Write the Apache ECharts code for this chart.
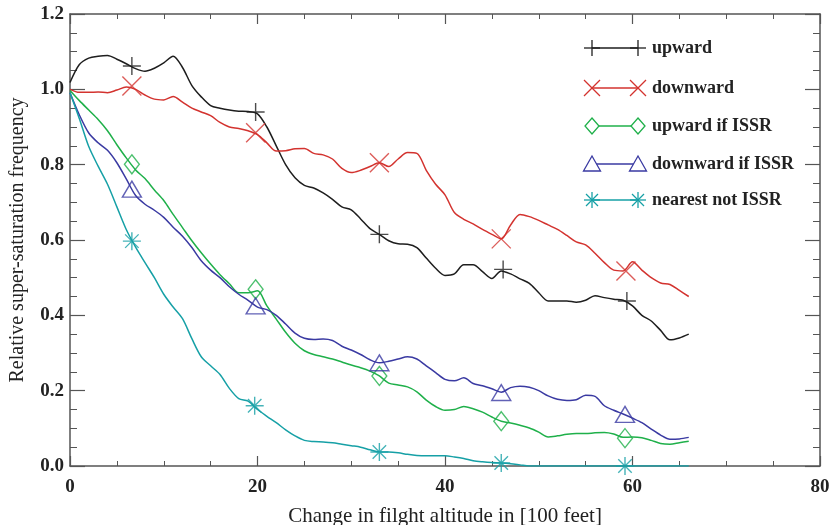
<!DOCTYPE html>
<html>
<head>
<meta charset="utf-8">
<script src="https://cdn.jsdelivr.net/npm/echarts@6/dist/echarts.min.js"></script>
<style>
  html, body { margin: 0; padding: 0; background: #fff; }
  #main { width: 833px; height: 525px; }
</style>
</head>
<body>
<div id="main"></div>
<script>
// altitude change [100 ft]
const xs = [0, 1, 2, 3, 4, 5, 6, 7, 8, 9, 10, 11, 12, 13, 14, 15, 16, 17, 18, 19, 20,
  21, 22, 23, 24, 25, 26, 27, 28, 29, 30, 31, 32, 33, 34, 35, 36, 37, 38, 39, 40,
  41, 42, 43, 44, 45, 46, 47, 48, 49, 50, 51, 52, 53, 54, 55, 56, 57, 58, 59, 60,
  61, 62, 63, 64, 65, 66];

const upward = [1.018, 1.066, 1.083, 1.088, 1.090, 1.080, 1.068, 1.055, 1.048, 1.056, 1.070,
  1.088, 1.058, 1.010, 0.980, 0.957, 0.950, 0.945, 0.942, 0.941, 0.935,
  0.900, 0.850, 0.800, 0.765, 0.745, 0.738, 0.725, 0.708, 0.688, 0.680,
  0.656, 0.630, 0.615, 0.598, 0.590, 0.589, 0.580, 0.552, 0.525, 0.506,
  0.510, 0.534, 0.534, 0.516, 0.498, 0.518, 0.510, 0.497, 0.485, 0.460,
  0.438, 0.438, 0.438, 0.435, 0.440, 0.452, 0.447, 0.443, 0.440, 0.425,
  0.400, 0.385, 0.360, 0.335, 0.340, 0.350];

const downward = [1.000, 0.992, 0.992, 0.993, 0.991, 0.998, 1.006, 1.000, 0.985, 0.974, 0.972,
  0.981, 0.966, 0.950, 0.940, 0.930, 0.912, 0.900, 0.896, 0.890, 0.880,
  0.858, 0.836, 0.837, 0.842, 0.843, 0.830, 0.826, 0.815, 0.790, 0.779,
  0.785, 0.795, 0.805, 0.795, 0.815, 0.832, 0.830, 0.785, 0.748, 0.720,
  0.673, 0.655, 0.643, 0.628, 0.615, 0.603, 0.640, 0.668, 0.662, 0.652,
  0.640, 0.628, 0.612, 0.595, 0.587, 0.565, 0.540, 0.520, 0.518, 0.542,
  0.520, 0.500, 0.486, 0.482, 0.466, 0.450];

const upwardIssr = [0.997, 0.970, 0.945, 0.920, 0.890, 0.853, 0.818, 0.786, 0.763, 0.733, 0.705,
  0.668, 0.633, 0.598, 0.566, 0.536, 0.508, 0.484, 0.460, 0.460, 0.465,
  0.425, 0.390, 0.355, 0.326, 0.306, 0.296, 0.290, 0.284, 0.276, 0.268,
  0.261, 0.252, 0.239, 0.220, 0.215, 0.210, 0.197, 0.175, 0.158, 0.148,
  0.150, 0.158, 0.152, 0.143, 0.130, 0.119, 0.114, 0.108, 0.101, 0.090,
  0.077, 0.080, 0.084, 0.086, 0.086, 0.088, 0.089, 0.085, 0.076, 0.077,
  0.075, 0.068, 0.060, 0.058, 0.062, 0.066];

const downwardIssr = [0.991, 0.932, 0.884, 0.858, 0.838, 0.805, 0.762, 0.718, 0.695, 0.679, 0.660,
  0.634, 0.610, 0.580, 0.545, 0.520, 0.500, 0.476, 0.456, 0.440, 0.422,
  0.415, 0.400, 0.377, 0.353, 0.339, 0.336, 0.337, 0.333, 0.318, 0.308,
  0.296, 0.282, 0.274, 0.278, 0.284, 0.290, 0.284, 0.266, 0.248, 0.230,
  0.226, 0.234, 0.219, 0.213, 0.205, 0.196, 0.208, 0.212, 0.209, 0.200,
  0.186, 0.177, 0.174, 0.176, 0.188, 0.185, 0.160, 0.148, 0.138, 0.127,
  0.115, 0.098, 0.082, 0.071, 0.072, 0.076];

const nearestNotIssr = [0.991, 0.922, 0.848, 0.796, 0.748, 0.688, 0.628, 0.581, 0.540, 0.500, 0.456,
  0.422, 0.391, 0.338, 0.290, 0.266, 0.243, 0.206, 0.179, 0.172, 0.150,
  0.132, 0.115, 0.096, 0.080, 0.068, 0.065, 0.064, 0.062, 0.058, 0.054,
  0.050, 0.043, 0.037, 0.037, 0.035, 0.031, 0.028, 0.027, 0.027, 0.027,
  0.024, 0.020, 0.014, 0.011, 0.009, 0.008, 0.006, 0.003, 0.000, 0.000,
  0.000, 0.000, 0.000, 0.000, 0.000, 0.000, 0.000, 0.000, 0.000, 0.000,
  0.000, 0.000, 0.000, 0.000, 0.000, 0.000];

// symbols drawn every ~13 units along each curve
const upwardMarkX = [6.6, 19.8, 33.0, 46.2, 59.4];
const upwardMarkY = [1.062, 0.940, 0.615, 0.522, 0.438];
const downwardMarkX = [6.6, 19.8, 33.0, 46.0, 59.3];
const downwardMarkY = [1.009, 0.885, 0.805, 0.603, 0.518];
const upwardIssrMarkX = [6.6, 19.8, 33.0, 46.0, 59.2];
const upwardIssrMarkY = [0.801, 0.469, 0.239, 0.119, 0.074];
const downwardIssrMarkX = [6.6, 19.8, 33.0, 46.0, 59.2];
const downwardIssrMarkY = [0.735, 0.425, 0.274, 0.195, 0.137];
const nearestMarkX = [6.6, 19.7, 33.0, 46.0, 59.2];
const nearestMarkY = [0.597, 0.160, 0.037, 0.008, 0.000];

const names = ["upward", "downward", "upward if ISSR", "downward if ISSR", "nearest not ISSR"];
const xTicks = [0, 20, 40, 60, 80];
const yTicks = [0.0, 0.2, 0.4, 0.6, 0.8, 1.0, 1.2];

const colors = ["#1e1e1e", "#d3332f", "#1fb04a", "#3a3aa2", "#16a0a6"];
const symbols = [
  "path://M0,-8L0,8M-8,0L8,0",
  "path://M-8,-8L8,8M-8,8L8,-8",
  "path://M0,-8L7,0L0,8L-7,0Z",
  "path://M0,-8L8,7L-8,7Z",
  "path://M0,-8L0,8M-8,0L8,0M-6,-6L6,6M-6,6L6,-6"
];
const symSizes = [[18, 18], [19, 19], [17, 19], [19, 17], [18, 18]];

// same glyphs for the legend, as segments / closed outlines (offsets from centre)
const legendGlyphs = [
  { lines: [[0, -8, 0, 8], [-8, 0, 8, 0]] },
  { lines: [[-8, -8, 8, 8], [-8, 8, 8, -8]] },
  { poly: [[0, -8], [7, 0], [0, 8], [-7, 0]] },
  { poly: [[0, -8], [8.5, 7], [-8.5, 7]] },
  { lines: [[0, -8, 0, 8], [-8, 0, 8, 0], [-6, -6, 6, 6], [-6, 6, 6, -6]] }
];

const curves = [upward, downward, upwardIssr, downwardIssr, nearestNotIssr];
const marksX = [upwardMarkX, downwardMarkX, upwardIssrMarkX, downwardIssrMarkX, nearestMarkX];
const marksY = [upwardMarkY, downwardMarkY, upwardIssrMarkY, downwardIssrMarkY, nearestMarkY];

const chart = echarts.init(document.getElementById("main"));

const axisColor = "#555";
const serif = "Liberation Serif";

let series = [];
curves.forEach(function (c, i) {
  series.push({
    name: names[i],
    type: "line",
    data: xs.map(function (x, k) { return [x, c[k]]; }),
    showSymbol: false,
    smooth: 0.3,
    lineStyle: { color: colors[i], width: 1.5 },
    z: 2
  });
  series.push({
    name: names[i] + " marks",
    type: "scatter",
    data: marksX[i].map(function (x, k) { return [x, marksY[i][k]]; }),
    symbol: symbols[i],
    symbolSize: symSizes[i],
    symbolKeepAspect: true,
    itemStyle: { color: "rgba(0,0,0,0)", borderColor: colors[i], borderWidth: 1.4 },
    z: 3
  });
});

// legend: short line with a symbol at each end, then the label
let graphic = [];
const legX0 = 592, legX1 = 638, legTextX = 652;
const legY = [48, 88, 126, 164, 200];
names.forEach(function (n, i) {
  const y = legY[i];
  graphic.push({
    type: "line",
    shape: { x1: legX0, y1: y, x2: legX1, y2: y },
    style: { stroke: colors[i], lineWidth: 1.3 }
  });
  [legX0, legX1].forEach(function (cx) {
    const g = legendGlyphs[i];
    if (g.lines) {
      g.lines.forEach(function (s) {
        graphic.push({
          type: "line",
          shape: { x1: cx + s[0], y1: y + s[1], x2: cx + s[2], y2: y + s[3] },
          style: { stroke: colors[i], lineWidth: 1.3 }
        });
      });
    } else {
      graphic.push({
        type: "polygon",
        shape: { points: g.poly.map(function (p) { return [cx + p[0], y + p[1]]; }) },
        style: { fill: "#fff", stroke: colors[i], lineWidth: 1.3 }
      });
    }
  });
  graphic.push({
    type: "text",
    x: legTextX,
    y: y,
    style: {
      text: n,
      fill: "#222",
      font: "bold 18px '" + serif + "'",
      verticalAlign: "middle"
    }
  });
});

function xAxisDef(pos, showLabels) {
  return {
    type: "value",
    position: pos,
    min: 0,
    max: 80,
    interval: 20,
    name: showLabels ? "Change in filght altitude in [100 feet]" : "",
    nameLocation: "middle",
    nameGap: 40,
    nameTextStyle: { fontFamily: serif, fontSize: 21, color: "#222" },
    axisLine: { show: true, onZero: false, lineStyle: { color: axisColor, width: 1.5 } },
    axisTick: { show: true, inside: true, length: 10, lineStyle: { color: axisColor, width: 1.2 } },
    minorTick: { show: true, splitNumber: 4, length: 5, lineStyle: { color: axisColor, width: 1 } },
    axisLabel: {
      show: showLabels,
      margin: 12,
      fontFamily: serif,
      fontWeight: "bold",
      fontSize: 19,
      color: "#222",
      formatter: function (v) { return xTicks.indexOf(v) >= 0 ? String(v) : ""; }
    },
    splitLine: { show: false }
  };
}

function yAxisDef(pos, showLabels) {
  return {
    type: "value",
    position: pos,
    min: 0,
    max: 1.2,
    interval: 0.2,
    name: showLabels ? "Relative super-saturation frequency" : "",
    nameLocation: "middle",
    nameGap: 42,
    nameTextStyle: { fontFamily: serif, fontSize: 20, color: "#222" },
    axisLine: { show: true, onZero: false, lineStyle: { color: axisColor, width: 1.5 } },
    axisTick: { show: true, inside: true, length: 15, lineStyle: { color: axisColor, width: 1.2 } },
    minorTick: { show: true, splitNumber: 4, length: 7, lineStyle: { color: axisColor, width: 1 } },
    axisLabel: {
      show: showLabels,
      margin: 6,
      fontFamily: serif,
      fontWeight: "bold",
      fontSize: 19,
      color: "#222",
      formatter: function (v) {
        const t = yTicks.find(function (y) { return Math.abs(y - v) < 1e-6; });
        return t === undefined ? "" : t.toFixed(1);
      }
    },
    splitLine: { show: false }
  };
}

chart.setOption({
  animation: false,
  backgroundColor: "#fff",
  grid: { left: 70, right: 13, top: 14, bottom: 59, containLabel: false, outerBoundsMode: "none" },
  xAxis: [xAxisDef("bottom", true), xAxisDef("top", false)],
  yAxis: [yAxisDef("left", true), yAxisDef("right", false)],
  series: series,
  graphic: graphic
});
</script>
</body>
</html>
